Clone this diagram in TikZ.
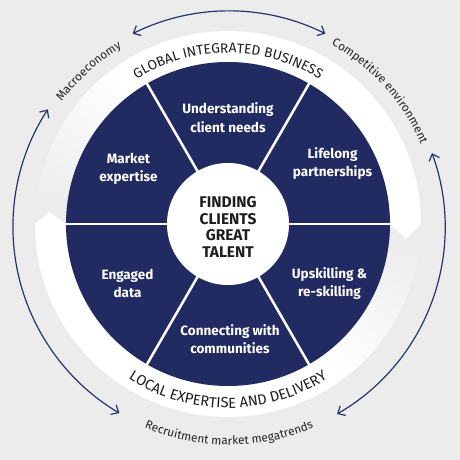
\documentclass[tikz,border=0pt]{standalone}
\usepackage{fontspec}
\setmainfont{Fira Sans}
\usetikzlibrary{decorations.text,arrows.meta}
\definecolor{bgc}{RGB}{236,236,236}
\definecolor{navy}{RGB}{34,43,97}
\definecolor{ink}{RGB}{30,30,30}
\definecolor{outink}{RGB}{35,35,35}
\definecolor{arrowc}{RGB}{42,50,110}
\begin{document}
\begin{tikzpicture}[x=1pt,y=1pt,
  seclabel/.style={text=white, font=\bfseries\fontsize{13.5}{18.5}\selectfont, align=center, inner sep=0pt},
  centerlabel/.style={text=ink, font=\bfseries\fontsize{15.5}{16.8}\selectfont, align=center, inner sep=0pt},
  outarrow/.style={draw=arrowc, line width=1.2, {Straight Barb[length=6pt,width=11pt]}-{Straight Barb[length=6pt,width=11pt]}},
  divider/.style={draw=white, line width=2.5}
]
\fill[bgc] (-228,-236) rectangle (232,224);
\useasboundingbox (-228,-236) rectangle (232,224);

% ---- ring: fading starts ----
\foreach \i in {0,...,35}{
  \pgfmathsetmacro\aa{180-\i*1.5}
  \pgfmathsetmacro\fr{100*(\i/35)^1.2}
  \draw[line width=31, draw=white!\fr!bgc] (\aa:177.5) arc[start angle=\aa, end angle=\aa-1.7, radius=177.5];
}
\foreach \i in {0,...,35}{
  \pgfmathsetmacro\aa{0-\i*1.5}
  \pgfmathsetmacro\fr{100*(\i/35)^1.2}
  \draw[line width=31, draw=white!\fr!bgc] (\aa:177.5) arc[start angle=\aa, end angle=\aa-1.7, radius=177.5];
}
% ---- ring: solid parts with arrow points ----
\fill[white] (126:162) arc[start angle=126, end angle=0, radius=162] -- (-4.8:179) -- (0:193) arc[start angle=0, end angle=126, radius=193] -- cycle;
\fill[white] (-54:162) arc[start angle=-54, end angle=-180, radius=162] -- (-183.8:179) -- (-180:193) arc[start angle=-180, end angle=-54, radius=193] -- cycle;

% ---- ring texts ----
\path[decorate, decoration={text along path, text color=ink, text align=center,
  text={|\fontsize{13.8}{14}\selectfont|GLOBAL INTEGRATED BUSINESS}}]
  (160:171) arc[start angle=160, end angle=20, radius=171];
\path[decorate, decoration={text along path, text color=ink, text align=center,
  text={|\fontsize{14.6}{15}\selectfont|LOCAL EXPERTISE AND DELIVERY}}]
  (200:184) arc[start angle=200, end angle=340, radius=184];

% ---- navy disc, dividers, centre ----
\fill[navy] (0,0) circle[radius=162];
\foreach \a in {0,60,...,300} \draw[divider] (\a:60) -- (\a:163);
\fill[white] (0,0) circle[radius=61];

\node[centerlabel] (core) at (0,-3) {FINDING\\CLIENTS\\GREAT\\TALENT};
\node[seclabel] (s90) at (0,106.5) {Understanding\\client needs};
\node[seclabel] (s150) at (-99.5,55) {Market\\expertise};
\node[seclabel] (s30) at (104.5,60.5) {Lifelong\\partnerships};
\node[seclabel] (s210) at (-100.5,-59.5) {Engaged\\data};
\node[seclabel] (s270) at (2,-115) {Connecting with\\communities};
\node[seclabel] (s330) at (101.5,-59.5) {Upskilling \&\\re-skilling};

% ---- outer arrows and labels ----
\begin{scope}[shift={(1,-3)}]
  \draw[outarrow] (116.5:216) arc[start angle=116.5, end angle=63.5, radius=216];
  \draw[outarrow] (147:216) arc[start angle=147, end angle=239.5, radius=216];
  \draw[outarrow] (20:216) arc[start angle=20, end angle=-60, radius=216];
  \path[decorate, decoration={text along path, text color=outink, text align=center,
    text={|\fontsize{11.8}{12}\selectfont|Macroeconomy}}]
    (152:209) arc[start angle=152, end angle=112, radius=209];
  \path[decorate, decoration={text along path, text color=outink, text align=center,
    text={|\fontsize{11.8}{12}\selectfont|Competitive environment}}]
    (70:209) arc[start angle=70, end angle=14, radius=209];
  \path[decorate, decoration={text along path, text color=outink, text align=center,
    text={|\fontsize{11.8}{12}\selectfont|Recruitment market megatrends}}]
    (230:218) arc[start angle=230, end angle=310, radius=218];
\end{scope}
\end{tikzpicture}
\end{document}
